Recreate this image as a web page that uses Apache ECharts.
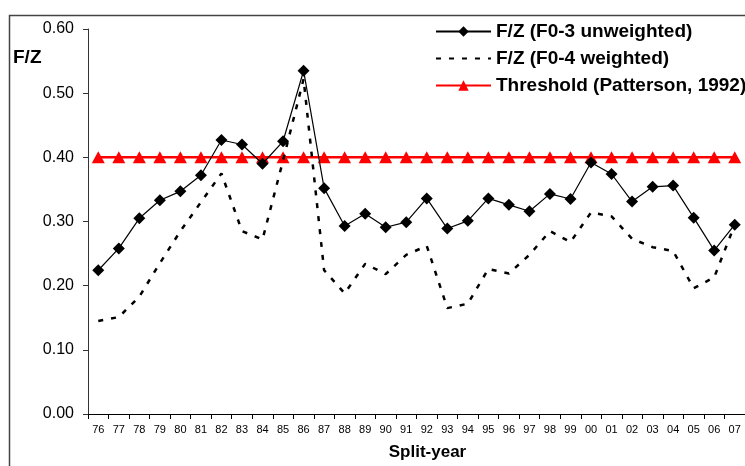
<!DOCTYPE html>
<html>
<head>
<meta charset="utf-8">
<script src="https://cdn.jsdelivr.net/npm/echarts@6/dist/echarts.min.js"></script>
<style>
html,body{margin:0;padding:0;background:#fff;}
#chart{width:745px;height:466px;}
</style>
</head>
<body>
<div id="chart"></div>
<script>
var categories = ['76','77','78','79','80','81','82','83','84','85','86','87','88','89','90','91','92','93','94','95','96','97','98','99','00','01','02','03','04','05','06','07'];
var unweighted = [0.224,0.258,0.305,0.333,0.347,0.372,0.427,0.420,0.390,0.425,0.535,0.352,0.293,0.312,0.291,0.299,0.336,0.289,0.301,0.336,0.326,0.316,0.343,0.335,0.392,0.374,0.331,0.354,0.356,0.306,0.255,0.295];
var weighted = [0.145,0.151,0.183,0.235,0.285,0.330,0.375,0.285,0.272,0.395,0.522,0.224,0.188,0.234,0.218,0.248,0.262,0.165,0.172,0.226,0.219,0.248,0.285,0.268,0.314,0.308,0.273,0.260,0.254,0.196,0.213,0.295];
var threshold = [0.40,0.40,0.40,0.40,0.40,0.40,0.40,0.40,0.40,0.40,0.40,0.40,0.40,0.40,0.40,0.40,0.40,0.40,0.40,0.40,0.40,0.40,0.40,0.40,0.40,0.40,0.40,0.40,0.40,0.40,0.40,0.40];
var seriesNames = ['F/Z (F0-3 unweighted)','F/Z (F0-4 weighted)','Threshold (Patterson, 1992)'];
var yTicks = {min:0, max:0.6, interval:0.1};

var FONT = '"Liberation Sans", Arial, sans-serif';
var chart = echarts.init(document.getElementById('chart'), null, {renderer:'canvas'});
chart.setOption({
  animation:false,
  backgroundColor:'#fff',
  grid:{left:88, right:-5, top:29, bottom:49, containLabel:false},
  graphic:[
    {type:'rect', shape:{x:9.5, y:15.5, width:800, height:500}, style:{fill:'none', stroke:'#444', lineWidth:1.5}, silent:true, z:-1},
    {type:'text', left:13, top:48, style:{text:'F/Z', font:'bold 19px ' + FONT, fill:'#000'}}
  ],
  legend:{
    orient:'vertical', left:430, top:17,
    itemWidth:55, itemHeight:13, itemGap:8,
    textStyle:{fontFamily:FONT, fontWeight:'bold', fontSize:19, color:'#000', lineHeight:19},
    data:[
      seriesNames[0],
      {name:seriesNames[1], itemStyle:{color:'rgba(0,0,0,0)', borderWidth:0, opacity:0}},
      seriesNames[2]
    ]
  },
  xAxis:{
    type:'category', data:categories, boundaryGap:true,
    axisLine:{lineStyle:{color:'#000', width:1}},
    axisTick:{show:true, alignWithLabel:false, length:5, lineStyle:{color:'#000'}},
    axisLabel:{interval:0, fontFamily:FONT, fontSize:11, color:'#000', margin:10},
    splitLine:{show:false},
    name:'Split-year', nameLocation:'middle', nameGap:30,
    nameTextStyle:{fontFamily:FONT, fontWeight:'bold', fontSize:17, color:'#000', padding:[0,0,0,22]}
  },
  yAxis:{
    type:'value', min:yTicks.min, max:yTicks.max, interval:yTicks.interval,
    axisLine:{show:true, lineStyle:{color:'#333', width:1}},
    axisTick:{show:true, length:5, lineStyle:{color:'#333'}},
    axisLabel:{fontFamily:FONT, fontSize:16, color:'#000', margin:14, formatter:function(v){return v.toFixed(2);}},
    splitLine:{show:false}
  },
  series:[
    {
      name:seriesNames[0], type:'line', data:unweighted,
      symbol:'diamond', symbolSize:12, showAllSymbol:true,
      itemStyle:{color:'#000'}, lineStyle:{color:'#000', width:1.2}, z:4
    },
    {
      name:seriesNames[1], type:'line', data:weighted,
      symbol:'none',
      itemStyle:{color:'#000'}, lineStyle:{color:'#000', width:2.5, type:[5,8]}, z:3
    },
    {
      name:seriesNames[2], type:'line', data:threshold,
      symbol:'triangle', symbolSize:[13,12], showAllSymbol:true,
      itemStyle:{color:'#ff0000'}, lineStyle:{color:'#ff0000', width:2.5}, z:2
    }
  ]
});
</script>
</body>
</html>
